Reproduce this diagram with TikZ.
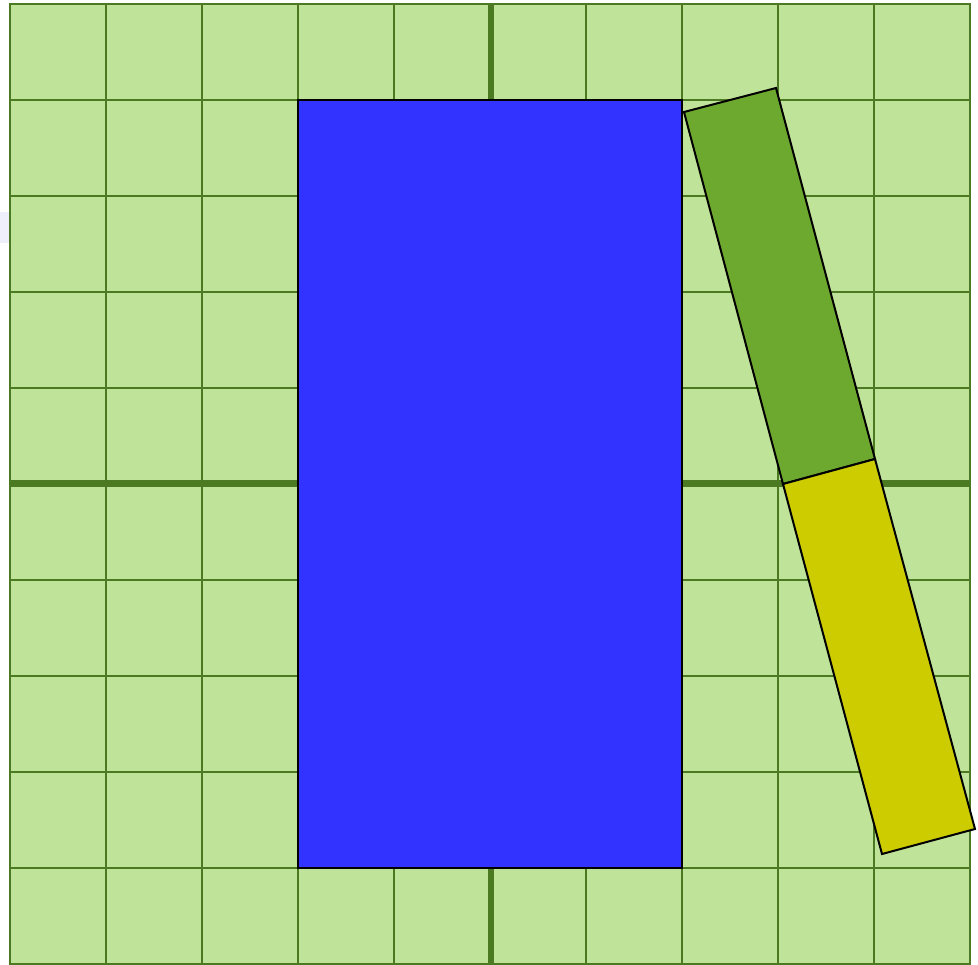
\documentclass[tikz,border=0pt]{standalone}
\definecolor{gridc}{HTML}{4C7A22}
\definecolor{gridfill}{HTML}{C0E39A}
\definecolor{bluefill}{HTML}{3333FF}
\definecolor{greenfill}{HTML}{6EA92F}
\definecolor{yellowfill}{HTML}{CCCC00}
\definecolor{lav}{HTML}{EFEFFC}
\tikzset{
  gridline/.style={draw=gridc, line width=1.5pt},
  axisline/.style={fill=gridc, draw=none},
  shapeline/.style={draw=black, line width=1.5pt, line join=miter}}
\begin{document}
\begin{tikzpicture}[x=0.75pt,y=-0.75pt]
\useasboundingbox (0,0) rectangle (978,964);
\fill[white] (0,0) rectangle (978,964);
\fill[lav] (0,212) rectangle (10,243);
\fill[gridfill] (10,4) rectangle (970,964);
\foreach \i in {1,...,9} {
  \draw[gridline] (10+96*\i,4) -- (10+96*\i,964);
  \draw[gridline] (10,4+96*\i) -- (970,4+96*\i);
}
\path[axisline] (487.5,4) rectangle (494,964);
\path[axisline] (10,479.5) rectangle (970,486.5);
\draw[draw=gridc, line width=2pt] (10,4) rectangle (970,964);
\filldraw[fill=bluefill, shapeline] (298,100) rectangle (682,868);
\filldraw[fill=greenfill, shapeline] (684,112) -- (776,88) -- (875,459) -- (783,484) -- cycle;
\filldraw[fill=yellowfill, shapeline] (783,484) -- (875,459) -- (975,829) -- (882,854) -- cycle;
\end{tikzpicture}
\end{document}
